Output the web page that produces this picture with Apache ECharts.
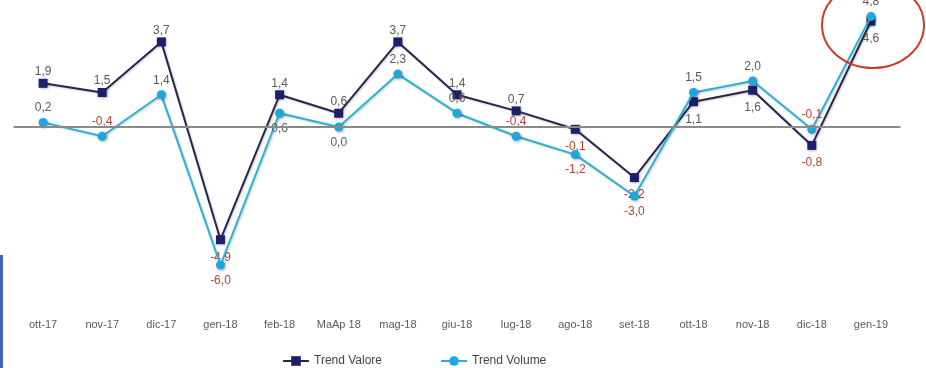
<!DOCTYPE html>
<html>
<head>
<meta charset="utf-8">
<script src="https://cdn.jsdelivr.net/npm/echarts@6/dist/echarts.min.js"></script>
<style>
  html, body { margin: 0; padding: 0; background: #fff; }
  #chart { width: 926px; height: 368px; }
</style>
</head>
<body>
<div id="chart"></div>
<script>
// Monthly trend, value vs volume (% change)
const categories = ['ott-17', 'nov-17', 'dic-17', 'gen-18', 'feb-18', 'MaAp 18', 'mag-18', 'giu-18',
                    'lug-18', 'ago-18', 'set-18', 'ott-18', 'nov-18', 'dic-18', 'gen-19'];
const trendValore = [1.9, 1.5, 3.7, -4.9, 1.4, 0.6, 3.7, 1.4, 0.7, -0.1, -2.2, 1.1, 1.6, -0.8, 4.6];
const trendVolume = [0.2, -0.4, 1.4, -6.0, 0.6, 0.0, 2.3, 0.6, -0.4, -1.2, -3.0, 1.5, 2.0, -0.1, 4.8];

// which side of each marker its value label sits on
const valoreLabelSide = ['top','top','top','bottom','top','top','top','top','top','bottom','bottom','bottom','bottom','bottom','bottom'];
const volumeLabelSide = ['top','top','top','bottom','bottom','bottom','top','top','top','bottom','bottom','top','top','top','top'];

const FONT = '"Liberation Sans", Arial, sans-serif';
const POS_COLOR = '#585858';
const NEG_COLOR = '#b5432e';

function fmt(v) { return v.toFixed(1).replace('.', ','); }

function buildPoints(values, sides, upDist, downDist) {
  return values.map((v, i) => ({
    value: v,
    label: {
      position: sides[i],
      distance: sides[i] === 'top' ? upDist : downDist,
      color: v < 0 ? NEG_COLOR : POS_COLOR
    }
  }));
}

const labelBase = {
  show: true,
  fontFamily: FONT,
  fontSize: 12,
  formatter: p => fmt(p.value)
};

const chart = echarts.init(document.getElementById('chart'), null, { renderer: 'canvas' });

chart.setOption({
  animation: false,
  backgroundColor: '#ffffff',
  grid: { left: 13.5, right: 25.5, top: 0.5, bottom: 57 },
  legend: {
    left: 277,
    top: 350,
    itemWidth: 26,
    itemHeight: 12,
    itemGap: 58,
    textStyle: { fontFamily: FONT, fontSize: 12, color: '#444' },
    data: ['Trend Valore', 'Trend Volume']
  },
  xAxis: {
    type: 'category',
    data: categories,
    boundaryGap: true,
    position: 'bottom',
    axisLine: { show: false },
    axisTick: { show: false },
    splitLine: { show: false },
    axisLabel: { fontFamily: FONT, fontSize: 11, color: '#5a5a5a', margin: 8, interval: 0 }
  },
  yAxis: {
    type: 'value',
    min: -8,
    max: 5.5,
    show: false,
    splitLine: { show: false }
  },
  series: [
    {
      name: 'Trend Valore',
      type: 'line',
      data: buildPoints(trendValore, valoreLabelSide, 1, 7),
      symbol: 'rect',
      symbolSize: 9,
      itemStyle: {
        color: '#1e1f6b',
        shadowBlur: 3, shadowColor: 'rgba(0,0,0,0.35)', shadowOffsetX: 1, shadowOffsetY: 1
      },
      lineStyle: {
        color: '#26264e', width: 2,
        shadowBlur: 2, shadowColor: 'rgba(0,0,0,0.2)', shadowOffsetX: 1, shadowOffsetY: 1
      },
      label: labelBase,
      z: 2,
      markLine: {
        silent: true,
        symbol: ['none', 'none'],
        label: { show: false },
        lineStyle: { color: '#8a8a8a', width: 2, type: 'solid' },
        data: [{ yAxis: 0 }]
      }
    },
    {
      name: 'Trend Volume',
      type: 'line',
      data: buildPoints(trendVolume, volumeLabelSide, 4, 5),
      symbol: 'circle',
      symbolSize: 9,
      itemStyle: {
        color: '#1fa6dc',
        shadowBlur: 3, shadowColor: 'rgba(0,0,0,0.35)', shadowOffsetX: 1, shadowOffsetY: 1
      },
      lineStyle: {
        color: '#2ab2d6', width: 2,
        shadowBlur: 2, shadowColor: 'rgba(0,0,0,0.2)', shadowOffsetX: 1, shadowOffsetY: 1
      },
      label: labelBase,
      z: 3
    }
  ],
  graphic: [
    {
      // highlight around the latest month
      type: 'ellipse',
      shape: { cx: 873, cy: 25, rx: 51, ry: 43 },
      style: { fill: 'none', stroke: '#cf3b2a', lineWidth: 2 },
      z: 10
    },
    {
      type: 'rect',
      shape: { x: 0, y: 255, width: 3, height: 113 },
      style: { fill: '#3f63b8' },
      z: 10
    }
  ]
});
</script>
</body>
</html>
